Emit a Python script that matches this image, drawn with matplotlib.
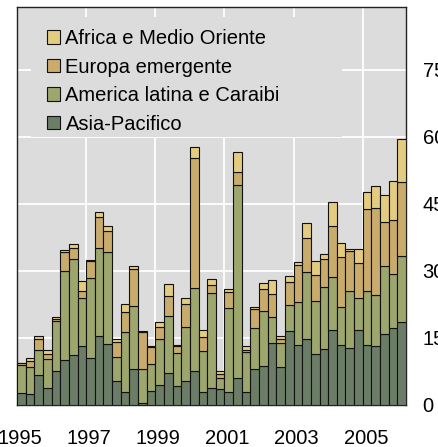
import numpy as np
import matplotlib
matplotlib.use("Agg")
import matplotlib.pyplot as plt
import matplotlib.transforms as mtransforms
from matplotlib.patches import Rectangle

# Dati trimestrali, 1995 T1 - 2006 T1
first_year = 1995
n_quarters = 45

asia = [2.6, 2.4, 6.7, 3.9, 7.7, 10.1, 11.1, 13.2, 10.5, 15.5,
        13.7, 5.4, 2.8, 8.0, 0.4, 3.1, 4.4, 7.1, 4.3, 5.3,
        7.6, 2.8, 3.7, 3.6, 2.8, 6.0, 2.8, 8.0, 8.7, 13.8,
        8.4, 16.6, 13.4, 14.7, 11.3, 12.5, 16.8, 13.4, 12.8, 16.8,
        13.4, 13.1, 15.9, 17.2, 18.6]
latin = [6.3, 6.0, 5.6, 6.3, 11.0, 19.9, 21.5, 10.7, 17.9, 19.6,
         20.5, 5.4, 13.5, 14.2, 7.7, 6.0, 10.3, 12.8, 7.3, 12.1,
         18.5, 9.3, 21.3, 2.4, 18.8, 43.1, 9.0, 9.2, 12.3, 5.8,
         5.4, 5.7, 9.7, 15.0, 12.0, 13.9, 11.9, 8.6, 12.8, 7.2,
         12.0, 11.5, 15.1, 12.1, 14.7]
europe = [0.4, 1.5, 2.5, 1.2, 0.6, 4.3, 2.6, 1.7, 3.8, 6.9,
          4.7, 3.3, 4.5, 8.3, 8.2, 3.8, 2.7, 4.5, 1.5, 5.1,
          29.2, 3.1, 1.8, 1.0, 3.6, 3.0, 0.5, 4.3, 4.9, 5.2,
          0.9, 5.2, 8.1, 7.6, 5.8, 6.3, 11.3, 11.2, 8.9, 7.7,
          18.5, 19.5, 9.9, 12.1, 16.6]
africa = [0.2, 0.5, 0.6, 0.8, 0.3, 0.3, 0.9, 2.2, 0.2, 1.1,
          1.1, 0.7, 1.8, 0.6, 0.2, 0.4, 1.2, 2.7, 0.3, 1.5,
          2.5, 1.6, 1.3, 0.6, 0.8, 4.5, 0.8, 0.4, 1.3, 3.1,
          0.8, 1.4, 0.7, 3.4, 3.2, 1.0, 5.4, 3.0, 0.4, 3.2,
          3.7, 4.8, 6.1, 8.7, 9.6]

labels = ["Asia-Pacifico", "America latina e Caraibi",
          "Europa emergente", "Africa e Medio Oriente"]
colors = ["#6b7d66", "#9ca66d", "#c9ab6c", "#e3cb7f"]
year_ticks = [1995, 1997, 1999, 2001, 2003, 2005]
y_ticks = [0, 15, 30, 45, 60, 75]

plt.rcParams["font.family"] = ["Liberation Sans", "DejaVu Sans"]

fig = plt.figure(figsize=(4.38, 4.47), dpi=100)
ax = fig.add_axes([17 / 438, 42 / 447, 389 / 438, 398 / 447])
ax.set_facecolor("#dcdcdc")

x = first_year + np.arange(n_quarters) / 4
bottom = np.zeros(n_quarters)
handles = []
for serie, col, lab in zip([asia, latin, europe, africa], colors, labels):
    b = ax.bar(x, serie, width=0.25, bottom=bottom, align="edge",
               color=col, edgecolor="#111111", linewidth=0.8, label=lab, zorder=3)
    handles.append(b)
    bottom += np.array(serie)

ax.set_xlim(first_year, first_year + n_quarters / 4)
ax.set_ylim(0, 89)

ax.set_xticks(year_ticks)
ax.set_xticklabels([str(y) for y in year_ticks])
ax.set_yticks(y_ticks)
ax.yaxis.tick_right()
ax.tick_params(axis="both", length=0, labelsize=14.5)
ax.tick_params(axis="y", pad=12)
ax.tick_params(axis="x", pad=17)

# etichette degli anni leggermente spostate a destra
shift = mtransforms.ScaledTranslation(3 / 100, 0, fig.dpi_scale_trans)
for t in ax.get_xticklabels():
    t.set_transform(t.get_transform() + shift)

ax.set_axisbelow(True)
ax.grid(True, color="white", linewidth=1.3)
for s in ax.spines.values():
    s.set_color("#222222")
    s.set_linewidth(1.0)

# sfondo della legenda, copre la griglia
ax.add_patch(Rectangle((14 / 389, 268 / 398), 311 / 389, 120 / 398,
                       transform=ax.transAxes, facecolor="#dcdcdc",
                       edgecolor="none", zorder=2))

leg = ax.legend(handles[::-1], labels[::-1], loc="upper left",
                bbox_to_anchor=(0.078, 0.944), frameon=False,
                fontsize=14.5, handlelength=0.65, handleheight=0.65,
                handletextpad=0.25, labelspacing=0.47, borderpad=0,
                borderaxespad=0)
leg.set_zorder(4)

plt.savefig("out.png", dpi=100)
plt.close()
